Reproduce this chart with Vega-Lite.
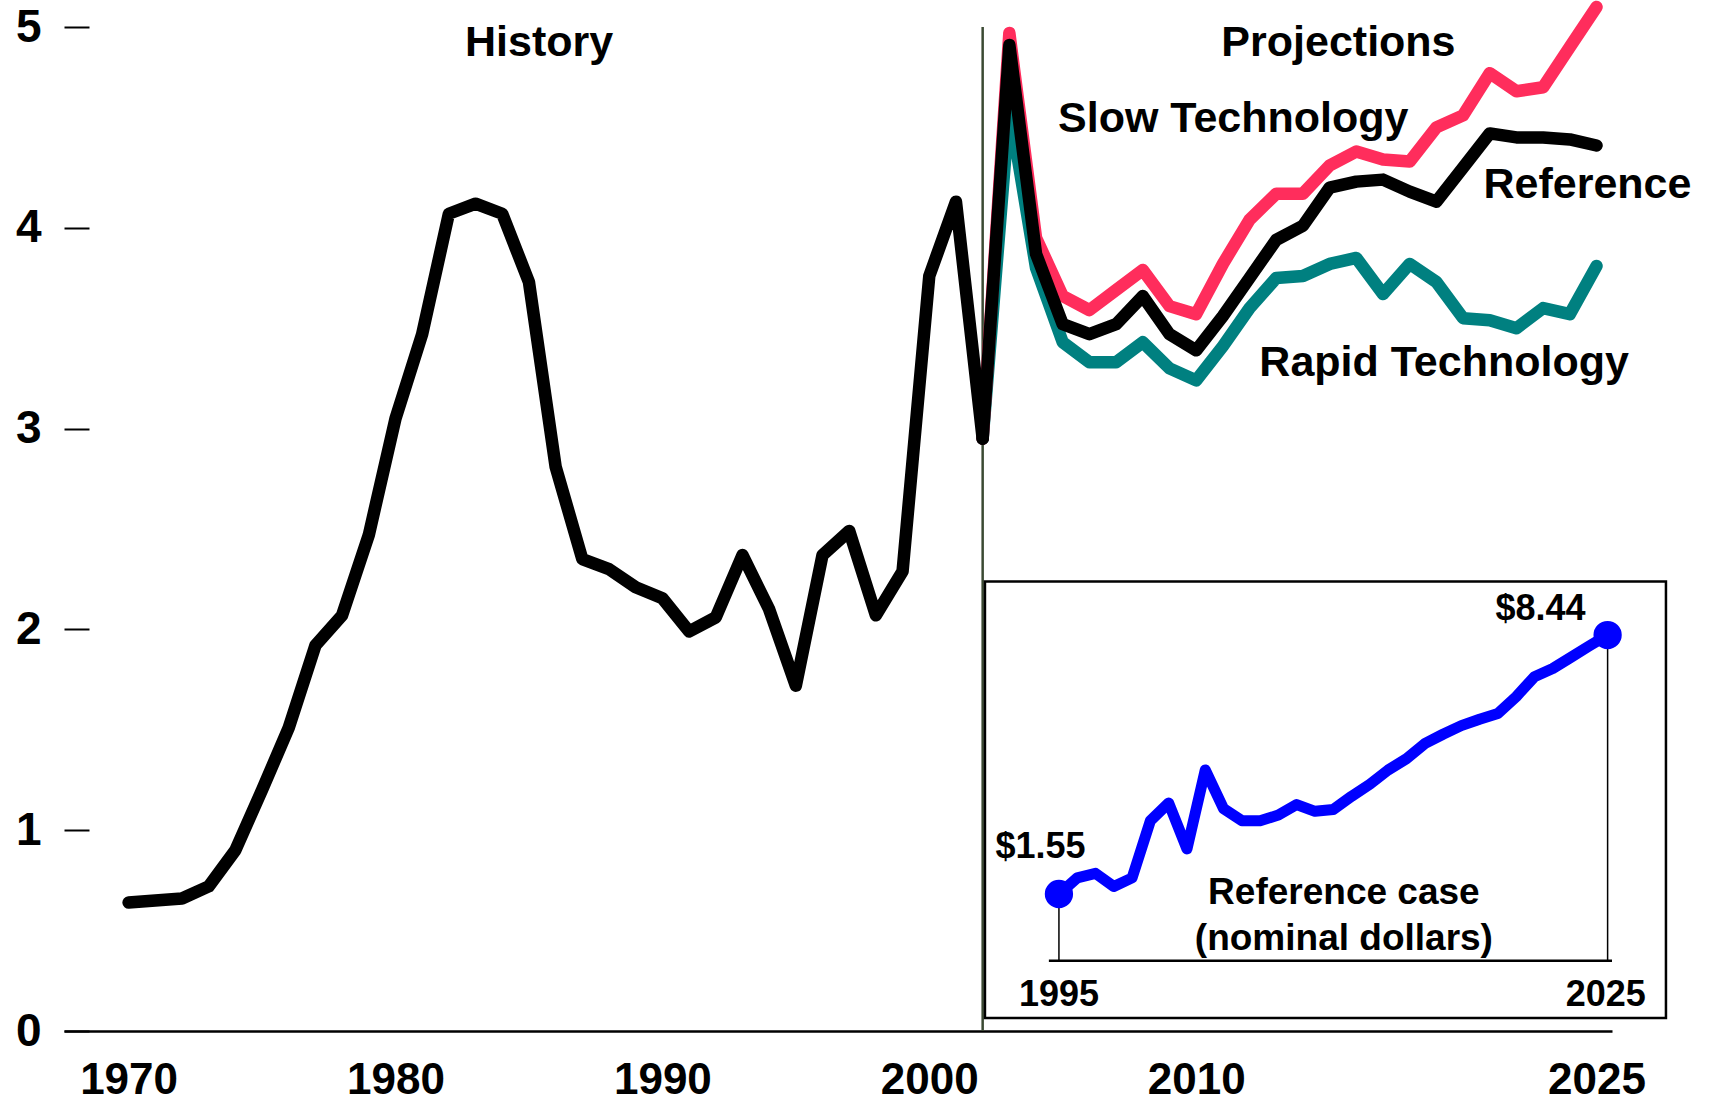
{
  "$schema": "https://vega.github.io/schema/vega-lite/v6.json",
  "autosize": {"type": "none"},
  "padding": {"left": 64, "top": 27, "right": 97, "bottom": 73},
  "width": 1548,
  "height": 1004,
  "background": "white",
  "config": {"view": {"stroke": null}, "font": "Liberation Sans", "text": {"font": "Liberation Sans"}},
  "datasets": {
    "history": [
      {"year": 1970, "value": 0.64}, {"year": 1971, "value": 0.65}, {"year": 1972, "value": 0.66},
      {"year": 1973, "value": 0.72}, {"year": 1974, "value": 0.90}, {"year": 1975, "value": 1.20},
      {"year": 1976, "value": 1.51}, {"year": 1977, "value": 1.92}, {"year": 1978, "value": 2.07},
      {"year": 1979, "value": 2.47}, {"year": 1980, "value": 3.05}, {"year": 1981, "value": 3.47},
      {"year": 1982, "value": 4.07}, {"year": 1983, "value": 4.12}, {"year": 1984, "value": 4.07},
      {"year": 1985, "value": 3.73}, {"year": 1986, "value": 2.81}, {"year": 1987, "value": 2.35},
      {"year": 1988, "value": 2.30}, {"year": 1989, "value": 2.21}, {"year": 1990, "value": 2.155},
      {"year": 1991, "value": 1.99}, {"year": 1992, "value": 2.06}, {"year": 1993, "value": 2.37},
      {"year": 1994, "value": 2.10}, {"year": 1995, "value": 1.72}, {"year": 1996, "value": 2.37},
      {"year": 1997, "value": 2.49}, {"year": 1998, "value": 2.07}, {"year": 1999, "value": 2.29},
      {"year": 2000, "value": 3.76}, {"year": 2001, "value": 4.13}, {"year": 2002, "value": 2.95}
    ],
    "reference": [
      {"year": 2002, "value": 2.95}, {"year": 2003, "value": 4.91}, {"year": 2004, "value": 3.87},
      {"year": 2005, "value": 3.52}, {"year": 2006, "value": 3.47}, {"year": 2007, "value": 3.52},
      {"year": 2008, "value": 3.66}, {"year": 2009, "value": 3.47}, {"year": 2010, "value": 3.39},
      {"year": 2011, "value": 3.56}, {"year": 2012, "value": 3.75}, {"year": 2013, "value": 3.94},
      {"year": 2014, "value": 4.01}, {"year": 2015, "value": 4.20}, {"year": 2016, "value": 4.23},
      {"year": 2017, "value": 4.24}, {"year": 2018, "value": 4.18}, {"year": 2019, "value": 4.13},
      {"year": 2020, "value": 4.30}, {"year": 2021, "value": 4.47}, {"year": 2022, "value": 4.45},
      {"year": 2023, "value": 4.45}, {"year": 2024, "value": 4.44}, {"year": 2025, "value": 4.41}
    ],
    "slow": [
      {"year": 2002, "value": 2.95}, {"year": 2003, "value": 4.97}, {"year": 2004, "value": 3.95},
      {"year": 2005, "value": 3.66}, {"year": 2006, "value": 3.59}, {"year": 2007, "value": 3.69},
      {"year": 2008, "value": 3.79}, {"year": 2009, "value": 3.61}, {"year": 2010, "value": 3.57},
      {"year": 2011, "value": 3.82}, {"year": 2012, "value": 4.04}, {"year": 2013, "value": 4.17},
      {"year": 2014, "value": 4.17}, {"year": 2015, "value": 4.31}, {"year": 2016, "value": 4.38},
      {"year": 2017, "value": 4.34}, {"year": 2018, "value": 4.33}, {"year": 2019, "value": 4.50},
      {"year": 2020, "value": 4.56}, {"year": 2021, "value": 4.77}, {"year": 2022, "value": 4.68},
      {"year": 2023, "value": 4.70}, {"year": 2024, "value": 4.90}, {"year": 2025, "value": 5.10}
    ],
    "rapid": [
      {"year": 2002, "value": 2.95}, {"year": 2003, "value": 4.60}, {"year": 2004, "value": 3.80},
      {"year": 2005, "value": 3.43}, {"year": 2006, "value": 3.33}, {"year": 2007, "value": 3.33},
      {"year": 2008, "value": 3.43}, {"year": 2009, "value": 3.30}, {"year": 2010, "value": 3.24},
      {"year": 2011, "value": 3.41}, {"year": 2012, "value": 3.60}, {"year": 2013, "value": 3.75},
      {"year": 2014, "value": 3.76}, {"year": 2015, "value": 3.82}, {"year": 2016, "value": 3.85},
      {"year": 2017, "value": 3.67}, {"year": 2018, "value": 3.82}, {"year": 2019, "value": 3.73},
      {"year": 2020, "value": 3.55}, {"year": 2021, "value": 3.54}, {"year": 2022, "value": 3.50},
      {"year": 2023, "value": 3.60}, {"year": 2024, "value": 3.57}, {"year": 2025, "value": 3.81}
    ],
    "nominal": [
      {"year": 1995, "value": 1.55}, {"year": 1996, "value": 1.98}, {"year": 1997, "value": 2.10},
      {"year": 1998, "value": 1.75}, {"year": 1999, "value": 1.98}, {"year": 2000, "value": 3.50},
      {"year": 2001, "value": 3.97}, {"year": 2002, "value": 2.75}, {"year": 2003, "value": 4.85},
      {"year": 2004, "value": 3.82}, {"year": 2005, "value": 3.50}, {"year": 2006, "value": 3.50},
      {"year": 2007, "value": 3.65}, {"year": 2008, "value": 3.93}, {"year": 2009, "value": 3.75},
      {"year": 2010, "value": 3.80}, {"year": 2011, "value": 4.15}, {"year": 2012, "value": 4.47},
      {"year": 2013, "value": 4.85}, {"year": 2014, "value": 5.15}, {"year": 2015, "value": 5.55},
      {"year": 2016, "value": 5.80}, {"year": 2017, "value": 6.03}, {"year": 2018, "value": 6.20},
      {"year": 2019, "value": 6.35}, {"year": 2020, "value": 6.80}, {"year": 2021, "value": 7.33},
      {"year": 2022, "value": 7.55}, {"year": 2023, "value": 7.85}, {"year": 2024, "value": 8.15},
      {"year": 2025, "value": 8.44}
    ],
    "endpoints": [
      {"year": 1995, "value": 1.55}, {"year": 2025, "value": 8.44}
    ],
    "one": [{}]
  },
  "resolve": {"scale": {"x": "independent", "y": "independent"}, "axis": {"x": "independent", "y": "independent"}},
  "layer": [
    {
      "layer": [
        {
          "data": {"name": "one"},
          "mark": {"type": "rule", "color": "#3b4a33", "strokeWidth": 2.5},
          "encoding": {
            "x": {"datum": 2002, "type": "quantitative", "scale": {"domain": [1967.58, 2025.58], "nice": false, "zero": false}},
            "y": {"datum": 0, "type": "quantitative", "scale": {"domain": [0, 5], "nice": false, "zero": false}},
            "y2": {"datum": 5}
          }
        },
        {
          "data": {"name": "rapid"},
          "mark": {"type": "line", "color": "#008080", "strokeWidth": 12.5, "strokeCap": "round", "strokeJoin": "round"},
          "encoding": {
            "x": {"field": "year", "type": "quantitative"},
            "y": {"field": "value", "type": "quantitative"}
          }
        },
        {
          "data": {"name": "slow"},
          "mark": {"type": "line", "color": "#ff2d5c", "strokeWidth": 12.5, "strokeCap": "round", "strokeJoin": "round"},
          "encoding": {
            "x": {"field": "year", "type": "quantitative"},
            "y": {"field": "value", "type": "quantitative"}
          }
        },
        {
          "data": {"name": "reference"},
          "mark": {"type": "line", "color": "black", "strokeWidth": 12.5, "strokeCap": "round", "strokeJoin": "round"},
          "encoding": {
            "x": {"field": "year", "type": "quantitative"},
            "y": {"field": "value", "type": "quantitative"}
          }
        },
        {
          "data": {"name": "history"},
          "mark": {"type": "line", "color": "black", "strokeWidth": 12.5, "strokeCap": "round", "strokeJoin": "round"},
          "encoding": {
            "x": {"field": "year", "type": "quantitative",
              "axis": {"values": [1970, 1980, 1990, 2000, 2010, 2025], "format": "d", "ticks": false, "domain": true,
                "domainColor": "black", "domainWidth": 2.5, "grid": false, "labelFontSize": 44, "labelFontWeight": "bold",
                "labelColor": "black", "labelPadding": 27, "title": null, "labelFlush": false, "labelOverlap": false, "labelFont": "Liberation Sans"}},
            "y": {"field": "value", "type": "quantitative",
              "axis": {"values": [0, 1, 2, 3, 4, 5], "format": "d", "domain": false, "grid": false, "ticks": true, "tickSize": -25, "tickWidth": 2,
                "tickColor": "black", "labelFontSize": 46, "labelFontWeight": "bold", "labelColor": "black", "labelPadding": 48,
                "title": null, "labelFont": "Liberation Sans"}}
          }
        },
        {
          "data": {"name": "one"},
          "mark": {"type": "text", "text": "History", "fontSize": 43, "fontWeight": "bold", "align": "center", "baseline": "alphabetic", "color": "black"},
          "encoding": {"x": {"datum": 1985.38, "type": "quantitative"}, "y": {"datum": 4.857, "type": "quantitative"}}
        },
        {
          "data": {"name": "one"},
          "mark": {"type": "text", "text": "Projections", "fontSize": 43, "fontWeight": "bold", "align": "center", "baseline": "alphabetic", "color": "black"},
          "encoding": {"x": {"datum": 2015.33, "type": "quantitative"}, "y": {"datum": 4.857, "type": "quantitative"}}
        },
        {
          "data": {"name": "one"},
          "mark": {"type": "text", "text": "Slow Technology", "fontSize": 43, "fontWeight": "bold", "align": "center", "baseline": "alphabetic", "color": "black"},
          "encoding": {"x": {"datum": 2011.39, "type": "quantitative"}, "y": {"datum": 4.478, "type": "quantitative"}}
        },
        {
          "data": {"name": "one"},
          "mark": {"type": "text", "text": "Reference", "fontSize": 43, "fontWeight": "bold", "align": "center", "baseline": "alphabetic", "color": "black"},
          "encoding": {"x": {"datum": 2024.66, "type": "quantitative"}, "y": {"datum": 4.146, "type": "quantitative"}}
        },
        {
          "data": {"name": "one"},
          "mark": {"type": "text", "text": "Rapid Technology", "fontSize": 43, "fontWeight": "bold", "align": "center", "baseline": "alphabetic", "color": "black"},
          "encoding": {"x": {"datum": 2019.29, "type": "quantitative"}, "y": {"datum": 3.262, "type": "quantitative"}}
        }
      ]
    },
    {
      "layer": [
        {
          "data": {"name": "one"},
          "mark": {"type": "rect", "fill": "white", "stroke": "black", "strokeWidth": 2.5},
          "encoding": {
            "x": {"datum": 1990.955, "type": "quantitative", "scale": {"domain": [1940.60, 2025.24], "nice": false, "zero": false}, "axis": null},
            "x2": {"datum": 2028.19},
            "y": {"datum": 9.864, "type": "quantitative", "scale": {"domain": [-2.094, 24.615], "nice": false, "zero": false}, "axis": null},
            "y2": {"datum": -1.748}
          }
        },
        {
          "data": {"name": "one"},
          "mark": {"type": "rule", "color": "black", "strokeWidth": 2.5},
          "encoding": {
            "x": {"datum": 1994.45, "type": "quantitative", "axis": null},
            "x2": {"datum": 2025.24},
            "y": {"datum": -0.224, "type": "quantitative", "axis": null}
          }
        },
        {
          "data": {"name": "endpoints"},
          "mark": {"type": "rule", "color": "black", "strokeWidth": 1.5},
          "encoding": {
            "x": {"field": "year", "type": "quantitative", "axis": null},
            "y": {"field": "value", "type": "quantitative", "axis": null},
            "y2": {"datum": -0.224}
          }
        },
        {
          "data": {"name": "nominal"},
          "mark": {"type": "line", "color": "#0000ff", "strokeWidth": 11, "strokeCap": "round", "strokeJoin": "round"},
          "encoding": {
            "x": {"field": "year", "type": "quantitative", "axis": null},
            "y": {"field": "value", "type": "quantitative", "axis": null}
          }
        },
        {
          "data": {"name": "endpoints"},
          "mark": {"type": "circle", "color": "#0000ff", "opacity": 1, "size": 800},
          "encoding": {
            "x": {"field": "year", "type": "quantitative", "axis": null},
            "y": {"field": "value", "type": "quantitative", "axis": null}
          }
        },
        {
          "data": {"name": "one"},
          "mark": {"type": "text", "text": "$1.55", "fontSize": 36, "fontWeight": "bold", "align": "center", "baseline": "alphabetic", "color": "black"},
          "encoding": {"x": {"datum": 1993.99, "type": "quantitative", "axis": null}, "y": {"datum": 2.508, "type": "quantitative", "axis": null}}
        },
        {
          "data": {"name": "one"},
          "mark": {"type": "text", "text": "$8.44", "fontSize": 36, "fontWeight": "bold", "align": "center", "baseline": "alphabetic", "color": "black"},
          "encoding": {"x": {"datum": 2021.33, "type": "quantitative", "axis": null}, "y": {"datum": 8.84, "type": "quantitative", "axis": null}}
        },
        {
          "data": {"name": "one"},
          "mark": {"type": "text", "text": "1995", "fontSize": 36, "fontWeight": "bold", "align": "center", "baseline": "alphabetic", "color": "black"},
          "encoding": {"x": {"datum": 1995, "type": "quantitative", "axis": null}, "y": {"datum": -1.416, "type": "quantitative", "axis": null}}
        },
        {
          "data": {"name": "one"},
          "mark": {"type": "text", "text": "2025", "fontSize": 36, "fontWeight": "bold", "align": "center", "baseline": "alphabetic", "color": "black"},
          "encoding": {"x": {"datum": 2024.9, "type": "quantitative", "axis": null}, "y": {"datum": -1.416, "type": "quantitative", "axis": null}}
        },
        {
          "data": {"name": "one"},
          "mark": {"type": "text", "text": ["Reference case", "(nominal dollars)"], "lineHeight": 46, "fontSize": 37, "fontWeight": "bold", "align": "center", "baseline": "alphabetic", "color": "black"},
          "encoding": {"x": {"datum": 2010.58, "type": "quantitative", "axis": null}, "y": {"datum": 1.285, "type": "quantitative", "axis": null}}
        }
      ]
    }
  ]
}
